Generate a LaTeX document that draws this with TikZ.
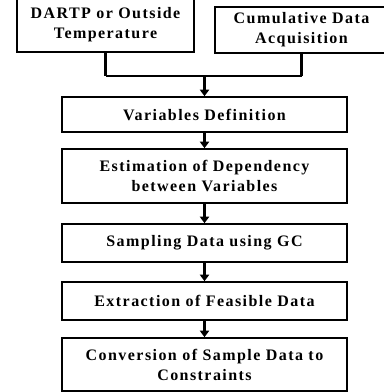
\documentclass[tikz,border=0pt]{standalone}
\usepackage{fontspec}
\setmainfont{Liberation Serif}[LetterSpace=9]
\usepackage{tikz}
\usetikzlibrary{arrows.meta, positioning, calc}
\tikzset{
  box/.style={rectangle, draw=black, fill=white, align=center,
    inner sep=0pt, line width=1.2pt,
    font=\fontsize{12}{15}\selectfont\bfseries},
  mainbox/.style={box, minimum width=213.75pt},
  stem/.style={line width=2.4pt},
  joinline/.style={line width=1.6pt},
  arrow/.style={-{Triangle[width=7pt,length=5pt]}, line width=2.6pt}
}

\begin{document}
\begin{tikzpicture}[x=0.75pt, y=-0.75pt]
  \useasboundingbox (0,0) rectangle (384,392);

  % input boxes
  \node[box, minimum width=132.75pt, minimum height=41.25pt] (dartp) at (105.5,24.5)
    {DARTP or Outside\\Temperature};
  \node[box, minimum width=129.75pt, minimum height=34.5pt] (cumul) at (301.5,30)
    {Cumulative Data\\Acquisition};

  % procedure
  \node[mainbox, minimum height=26.25pt] (vardef) at (204.5,114.5) {Variables Definition};
  \node[mainbox, minimum height=40.5pt] (estim) at (204.5,176)
    {Estimation of Dependency\\between Variables};
  \node[mainbox, minimum height=28.5pt] (sampl) at (204.5,243) {Sampling Data using GC};
  \node[mainbox, minimum height=28.5pt] (extract) at (204.5,301) {Extraction of Feasible Data};
  \node[mainbox, minimum height=39.75pt] (convert) at (204.5,364.5)
    {Conversion of Sample Data to\\Constraints};

  % merge of the two inputs
  \coordinate (merge) at (204.5,76);
  \draw[stem] (dartp.south) -- (dartp.south |- merge);
  \draw[stem] (cumul.south) -- (cumul.south |- merge);
  \draw[joinline] (dartp.south |- merge) -- (cumul.south |- merge);
  \draw[arrow] (merge) -- (vardef.north);

  % steps
  \draw[arrow] (vardef) -- (estim);
  \draw[arrow] (estim) -- (sampl);
  \draw[arrow] (sampl) -- (extract);
  \draw[arrow] (extract) -- (convert);
\end{tikzpicture}
\end{document}
